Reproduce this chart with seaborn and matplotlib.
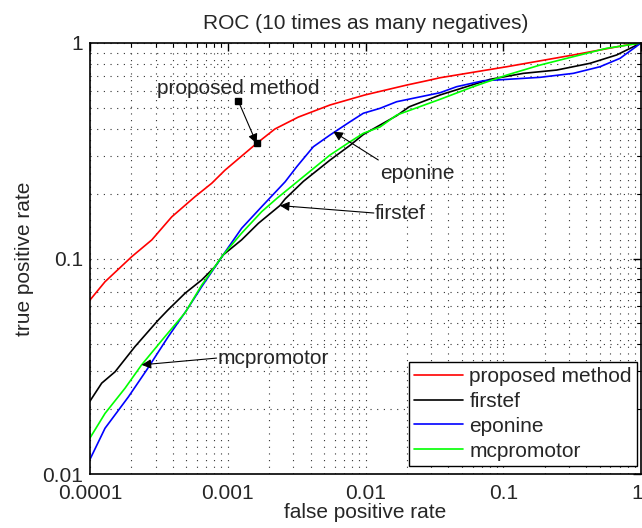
import numpy as np
import pandas as pd
import matplotlib
matplotlib.use("Agg")
import matplotlib.pyplot as plt
import matplotlib.transforms as mtransforms
import seaborn as sns

# ---- data ----
methods = ["proposed method", "firstef", "eponine", "mcpromotor"]
colors = ["#ff0000", "#000000", "#0000ff", "#00ff00"]

fpr_proposed = [1e-4, 1.285e-4, 2.01e-4, 2.81e-4, 3.92e-4, 5.78e-4, 7.65e-4, 9.55e-4, 1.62e-3,
                2.2e-3, 3.25e-3, 5.52e-3, 9.9e-3, 0.0199, 0.0278, 0.0348, 0.106, 0.3225, 0.787, 1.0]
tpr_proposed = [0.0642, 0.078, 0.102, 0.122, 0.156, 0.1935, 0.2234, 0.257, 0.342,
                0.399, 0.453, 0.5155, 0.574, 0.638, 0.668, 0.69, 0.776, 0.880, 0.979, 1.0]

fpr_firstef = [1e-4, 1.216e-4, 1.52e-4, 2.12e-4, 3.13e-4, 3.68e-4, 4.9e-4, 6.47e-4, 8.08e-4, 9.25e-4,
               1.26e-3, 1.67e-3, 2.39e-3, 2.61e-3, 3.54e-3, 5.52e-3, 7.72e-3, 9.64e-3, 0.01274,
               0.01684, 0.0208, 0.0348, 0.0801, 0.1398, 0.2445, 0.4266, 0.666, 1.0]
tpr_firstef = [0.0218, 0.0264, 0.0298, 0.039, 0.0518, 0.0577, 0.069, 0.0795, 0.0916, 0.1038,
               0.122, 0.1457, 0.176, 0.189, 0.228, 0.286, 0.335, 0.376, 0.416,
               0.46, 0.506, 0.574, 0.678, 0.723, 0.749, 0.805, 0.880, 1.0]

fpr_eponine = [1e-4, 1.285e-4, 1.9e-4, 2.58e-4, 3.7e-4, 5.04e-4, 6.47e-4, 9.25e-4, 1.26e-3, 1.764e-3,
               2.61e-3, 3.17e-3, 4.18e-3, 5.52e-3, 7.72e-3, 9.64e-3, 0.01274, 0.01684, 0.0348,
               0.0459, 0.0716, 0.106, 0.185, 0.3225, 0.504, 0.705, 1.0]
tpr_eponine = [0.0117, 0.0163, 0.0228, 0.0304, 0.0434, 0.0577, 0.074, 0.1038, 0.138, 0.174,
               0.227, 0.2667, 0.330, 0.374, 0.431, 0.472, 0.4975, 0.534, 0.588,
               0.627, 0.668, 0.678, 0.693, 0.723, 0.776, 0.849, 1.0]

fpr_mcpromotor = [1e-4, 1.285e-4, 1.795e-4, 2.37e-4, 3.5e-4, 4.9e-4, 6.47e-4, 9.25e-4, 1.26e-3,
                  1.764e-3, 2.27e-3, 3.54e-3, 5.52e-3, 7.72e-3, 9.64e-3, 0.01274, 0.01684, 0.0348,
                  0.0606, 0.106, 0.185, 0.3225, 0.5636, 1.0]
tpr_mcpromotor = [0.0147, 0.0191, 0.025, 0.0321, 0.0434, 0.056, 0.0753, 0.1038, 0.131,
                  0.165, 0.19, 0.2396, 0.302, 0.348, 0.381, 0.4075, 0.463, 0.548,
                  0.627, 0.710, 0.790, 0.864, 0.945, 1.0]

x_ticks = [1e-4, 1e-3, 1e-2, 1e-1, 1]
x_ticklabels = ["0.0001", "0.001", "0.01", "0.1", "1"]
y_ticks = [0.01, 0.1, 1]
y_ticklabels = ["0.01", "0.1", "1"]

# annotations: (text, text position, arrow tail, arrow tip)
ann_text = ["proposed method", "eponine", "firstef", "mcpromotor"]
ann_text_xy = [(1.19e-3, 0.612), (0.01274, 0.249), (0.01172, 0.1626), (8.5e-4, 0.0345)]
ann_tail_xy = [(1.19e-3, 0.540), (0.01239, 0.2865), (0.0115, 0.1626), (8.3e-4, 0.0345)]
ann_tip_xy = [(1.62e-3, 0.342), (5.84e-3, 0.388), (2.39e-3, 0.176), (2.37e-4, 0.0321)]

# ---- build table ----
frames = []
for name, fx, fy in [("proposed method", fpr_proposed, tpr_proposed),
                     ("firstef", fpr_firstef, tpr_firstef),
                     ("eponine", fpr_eponine, tpr_eponine),
                     ("mcpromotor", fpr_mcpromotor, tpr_mcpromotor)]:
    frames.append(pd.DataFrame({"fpr": fx, "tpr": fy, "method": name}))
df = pd.concat(frames, ignore_index=True)

sns.set_style("white")
plt.rcParams["font.family"] = ["Liberation Sans", "DejaVu Sans"]
FS = 15

fig = plt.figure(figsize=(6.42, 5.28), dpi=100)
ax = fig.add_axes([90 / 642, 54 / 528, 551 / 642, 431 / 528])

sns.lineplot(data=df, x="fpr", y="tpr", hue="method", hue_order=methods,
             palette=dict(zip(methods, colors)), sort=False, estimator=None,
             linewidth=1.2, ax=ax)

ax.set_xscale("log")
ax.set_yscale("log")
ax.set_xlim(1e-4, 1)
ax.set_ylim(0.01, 1)
ax.set_xticks(x_ticks)
ax.set_xticklabels(x_ticklabels)
ax.set_yticks(y_ticks)
ax.set_yticklabels(y_ticklabels)

ax.grid(True, which="both", color="0.2", linestyle=(0, (1, 5)), linewidth=0.8)
ax.tick_params(which="both", direction="in", top=True, right=True, labelsize=FS, color="k")
ax.tick_params(which="major", length=6, width=1.0, pad=5)
ax.tick_params(axis="x", which="major", pad=7)
ax.tick_params(which="minor", length=3, width=0.8)
for s in ax.spines.values():
    s.set_visible(True)
    s.set_color("k")
    s.set_linewidth(1.2)

# keep the last x tick label inside the figure
last = ax.get_xticklabels()[-1]
last.set_transform(last.get_transform() + mtransforms.ScaledTranslation(-4 / 100, 0, fig.dpi_scale_trans))

ax.set_title("ROC (10 times as many negatives)", fontsize=FS, pad=10)
ax.set_xlabel("false positive rate", fontsize=FS, labelpad=0)
ax.set_ylabel("true positive rate", fontsize=FS, labelpad=6)

leg = ax.legend(loc="lower right", bbox_to_anchor=(0.993, 0.019), fontsize=FS,
                frameon=True, fancybox=False, edgecolor="k", framealpha=1,
                handlelength=2.35, handletextpad=0.3, borderpad=0.25, labelspacing=0.28,
                borderaxespad=0)
leg.get_frame().set_linewidth(1.0)
for h in leg.get_lines():
    h.set_linewidth(1.2)

for t, txy, tail, tip in zip(ann_text, ann_text_xy, ann_tail_xy, ann_tip_xy):
    if t == "proposed method":
        ax.text(txy[0], txy[1], t, fontsize=FS, ha="center", va="center")
    else:
        ax.text(txy[0], txy[1], t, fontsize=FS, ha="left", va="center")
    ax.annotate("", xy=tip, xytext=tail,
                arrowprops=dict(arrowstyle="-|>", color="k", lw=0.8,
                                mutation_scale=14, shrinkA=0, shrinkB=0))
# square markers on the "proposed method" annotation
ax.plot([ann_tail_xy[0][0], ann_tip_xy[0][0]], [ann_tail_xy[0][1], ann_tip_xy[0][1]],
        linestyle="none", marker="s", ms=5, color="k")

fig.savefig("out.png", dpi=100)
